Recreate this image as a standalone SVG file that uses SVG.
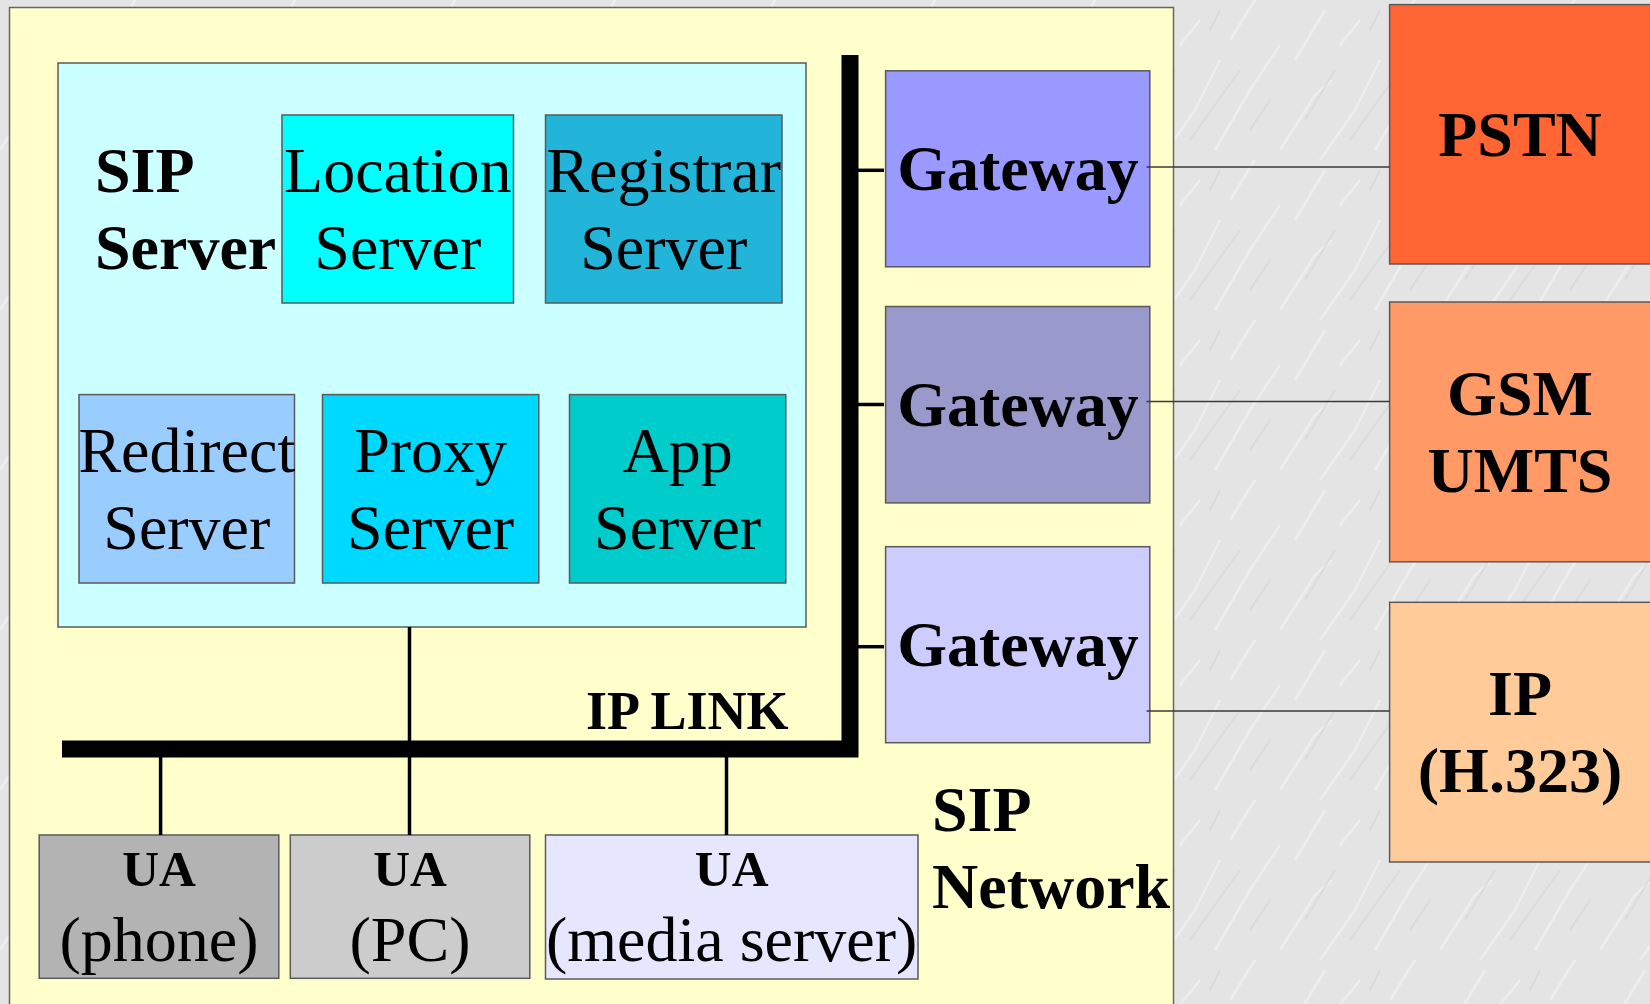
<svg xmlns="http://www.w3.org/2000/svg" width="1650" height="1004" viewBox="0 0 1650 1004">
<defs>
<style>
.box{stroke:#5a5a5a;stroke-width:1.5}
.t{font-family:"Liberation Serif","Times New Roman",serif;font-size:64px;fill:#000;text-anchor:middle}
.b{font-weight:bold}
.l{text-anchor:start}
.bus{fill:none;stroke:#000;stroke-width:17;stroke-linejoin:miter}
.drop{stroke:#000;stroke-width:3.5}
.tick{stroke:#000;stroke-width:3.5}
.thin{stroke:#3a3a3a;stroke-width:1.5}
</style>
<pattern id="marble" width="160" height="160" patternUnits="userSpaceOnUse">
<rect width="160" height="160" fill="#e4e4e4"/>
<path d="M0 150 L35 95 L52 80 M40 160 L75 110 L100 60 M95 150 L130 90 L160 45 M15 60 L45 10 M110 40 L135 0 M60 45 L80 20" stroke="#eeeeee" stroke-width="2.5" fill="none"/>
<path d="M25 120 L55 70 M70 140 L120 70 M130 130 L150 100 M90 30 L100 10" stroke="#dadada" stroke-width="1.5" fill="none"/>
</pattern>
</defs>
<rect x="0" y="0" width="1650" height="1004" fill="url(#marble)"/>
<g id="sip-network">
<rect x="9.5" y="7.5" width="1164" height="1010" fill="#ffffcc" stroke="#666" stroke-width="1.5"/>
<text class="t b l" x="932" y="831">SIP</text>
<text class="t b l" x="932" y="908">Network</text>
</g>
<g id="sip-server">
<rect class="box" x="58" y="63" width="748" height="564" fill="#ccffff"/>
<text class="t b l" x="95" y="192">SIP</text>
<text class="t b l" x="95" y="269">Server</text>
</g>
<g id="location-server">
<rect class="box" x="282" y="115" width="231.5" height="188" fill="#00ffff"/>
<text class="t" x="397.8" y="192">Location</text>
<text class="t" x="397.8" y="269">Server</text>
</g>
<g id="registrar-server">
<rect class="box" x="545.5" y="115" width="236.5" height="188" fill="#22b4d9"/>
<text class="t" x="663.7" y="192">Registrar</text>
<text class="t" x="663.7" y="269">Server</text>
</g>
<g id="redirect-server">
<rect class="box" x="79" y="394.6" width="215.5" height="188.4" fill="#99ccff"/>
<text class="t" x="186.8" y="472">Redirect</text>
<text class="t" x="186.8" y="549">Server</text>
</g>
<g id="proxy-server">
<rect class="box" x="322.5" y="394.6" width="216.3" height="188.4" fill="#00d9ff"/>
<text class="t" x="430.6" y="472">Proxy</text>
<text class="t" x="430.6" y="549">Server</text>
</g>
<g id="app-server">
<rect class="box" x="569.5" y="394.6" width="216.3" height="188.4" fill="#00cccc"/>
<text class="t" x="677.6" y="472">App</text>
<text class="t" x="677.6" y="549">Server</text>
</g>
<g id="gateway-1">
<rect class="box" x="885.6" y="70.8" width="264.2" height="196" fill="#9999ff"/>
<text class="t b" x="1018" y="190">Gateway</text>
</g>
<g id="gateway-2">
<rect class="box" x="885.6" y="306.5" width="264.2" height="196.4" fill="#9999cc"/>
<text class="t b" x="1018" y="426">Gateway</text>
</g>
<g id="gateway-3">
<rect class="box" x="885.6" y="546.7" width="264.2" height="196" fill="#ccccff"/>
<text class="t b" x="1018" y="666">Gateway</text>
</g>
<g id="pstn">
<rect class="box" x="1389.6" y="4.6" width="270" height="259.4" fill="#ff6633"/>
<text class="t b" x="1520" y="156">PSTN</text>
</g>
<g id="gsm-umts">
<rect class="box" x="1389.6" y="302" width="270" height="259.8" fill="#ff9966"/>
<text class="t b" x="1520" y="415">GSM</text>
<text class="t b" x="1520" y="492">UMTS</text>
</g>
<g id="ip-h323">
<rect class="box" x="1389.6" y="602.3" width="270" height="259.7" fill="#ffcc99"/>
<text class="t b" x="1520" y="715">IP</text>
<text class="t b" x="1520" y="792">(H.323)</text>
</g>
<g id="ua-phone">
<rect class="box" x="39.2" y="835" width="239.6" height="143.3" fill="#b3b3b3"/>
<text class="t b" x="159" y="886" style="font-size:51px">UA</text>
<text class="t" x="159" y="961">(phone)</text>
</g>
<g id="ua-pc">
<rect class="box" x="290.3" y="835" width="239.5" height="143.3" fill="#cccccc"/>
<text class="t b" x="410" y="886" style="font-size:51px">UA</text>
<text class="t" x="410" y="961">(PC)</text>
</g>
<g id="ua-media">
<rect class="box" x="545.5" y="835" width="372.5" height="144" fill="#e6e6ff"/>
<text class="t b" x="731.7" y="886" style="font-size:51px">UA</text>
<text class="t" x="731.7" y="961">(media server)</text>
</g>
<g id="connectors">
<path class="bus" d="M850 55 L850 749 L62 749"/>
<text class="t b l" x="586" y="729" style="font-size:54px">IP LINK</text>
<line class="tick" x1="858" y1="170.3" x2="884" y2="170.3"/>
<line class="tick" x1="858" y1="404.5" x2="884" y2="404.5"/>
<line class="tick" x1="858" y1="646.7" x2="884" y2="646.7"/>
<line class="drop" x1="409.5" y1="627" x2="409.5" y2="835"/>
<line class="drop" x1="160.6" y1="749" x2="160.6" y2="835"/>
<line class="drop" x1="726.5" y1="749" x2="726.5" y2="835"/>
<line class="thin" x1="1146.6" y1="166.9" x2="1389.6" y2="166.9"/>
<line class="thin" x1="1146.6" y1="401.5" x2="1389.6" y2="401.5"/>
<line class="thin" x1="1146.6" y1="711" x2="1389.6" y2="711"/>
</g>
</svg>
